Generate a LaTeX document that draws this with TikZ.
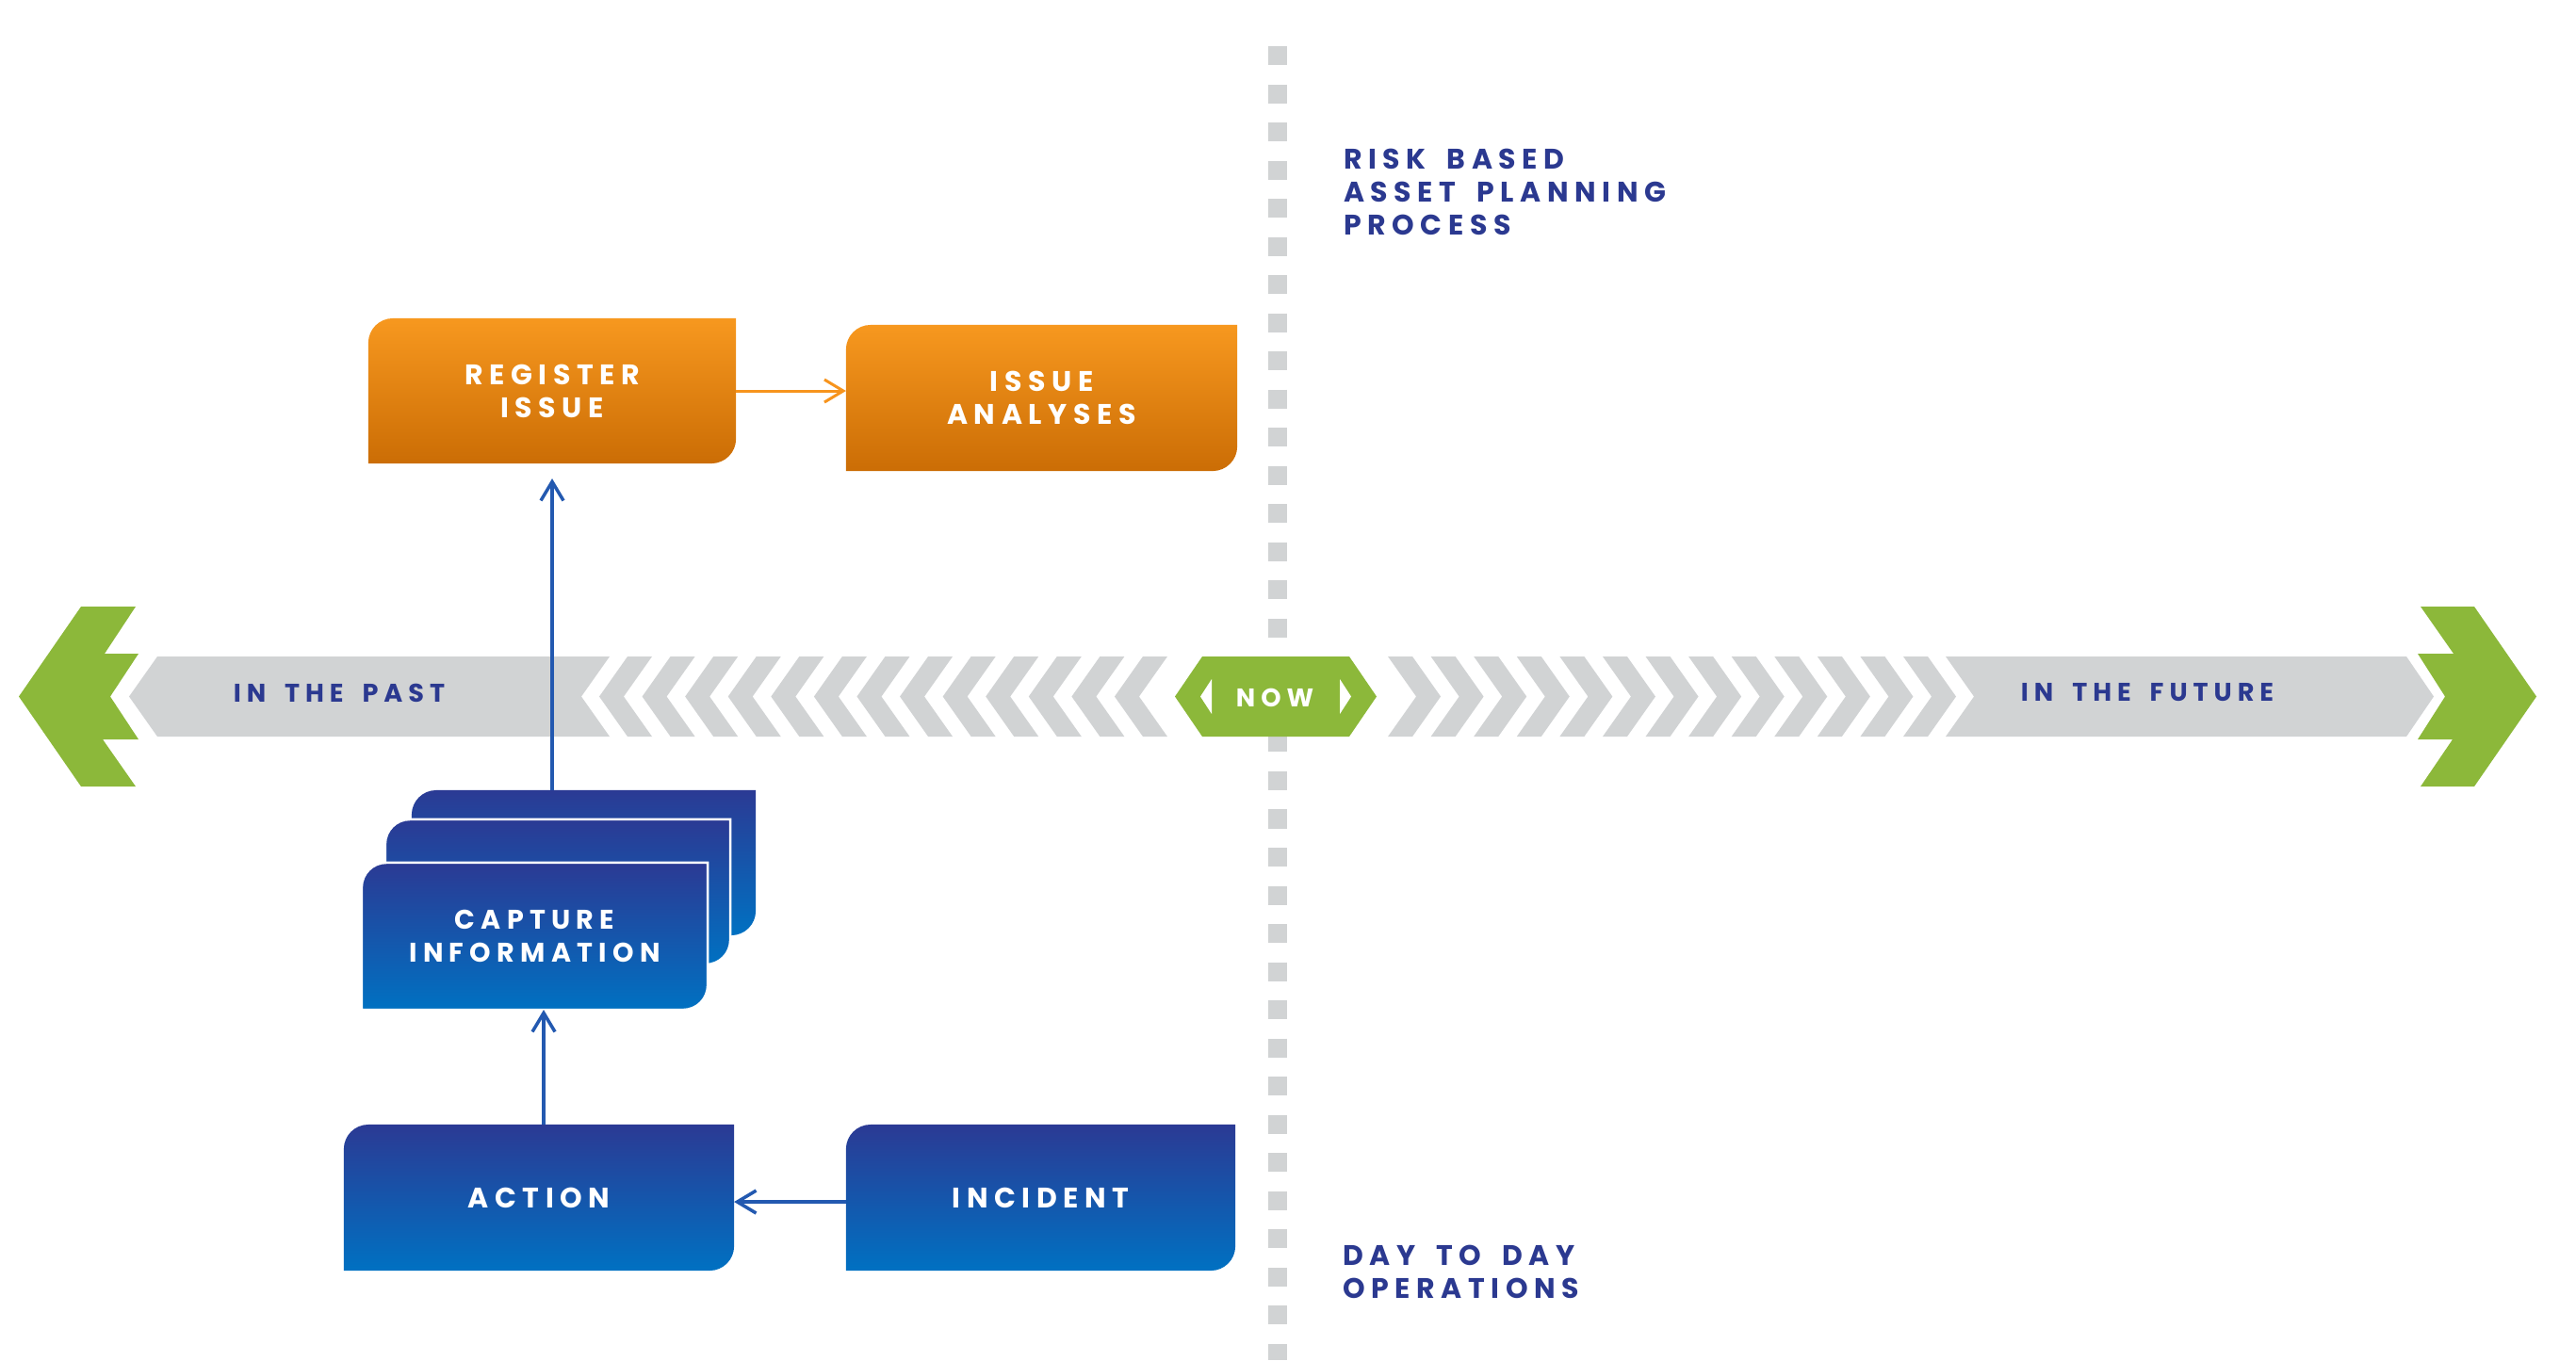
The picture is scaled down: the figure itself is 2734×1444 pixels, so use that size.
\documentclass[tikz,border=0pt]{standalone}
\usepackage{fontspec}
\usetikzlibrary{arrows.meta}
\newfontfamily\labfont{Poppins}[LetterSpace=22, WordSpace=1.7]
\definecolor{navy}{HTML}{2B3990}
\definecolor{bandgray}{HTML}{D1D3D4}
\definecolor{grn}{HTML}{8CB83A}
\definecolor{orT}{HTML}{F7981F}
\definecolor{orB}{HTML}{CB6D05}
\definecolor{blT}{HTML}{2B3A94}
\definecolor{blB}{HTML}{0071C2}
\definecolor{arrowor}{HTML}{F7941D}
\definecolor{arrowbl}{HTML}{2359B0}
\pgfdeclarelayer{bg}
\pgfsetlayers{bg,main}
\def\boxr{0.26cm}
\newcommand{\rbshape}[4]{%
 \shadedraw[top color=#2,bottom color=#3,draw=#4,line width=0.025cm] (#1.south west) -- ([yshift=-\boxr]#1.north west) .. controls ([yshift=-0.448*\boxr]#1.north west) and ([xshift=0.448*\boxr]#1.north west) .. ([xshift=\boxr]#1.north west) -- (#1.north east) -- ([yshift=\boxr]#1.south east) .. controls ([yshift=0.448*\boxr]#1.south east) and ([xshift=-0.448*\boxr]#1.south east) .. ([xshift=-\boxr]#1.south east) -- cycle;}
\tikzset{
 boxnode/.style={inner sep=0pt, outer sep=0pt, align=center, text=white, font=\labfont\bfseries\fontsize{8.54}{9.96}\selectfont},
 lbl/.style={inner sep=0pt, outer sep=0pt, text=navy, font=\labfont\bfseries\fontsize{8.54}{9.96}\selectfont},
 smalllbl/.style={lbl, font=\labfont\bfseries\fontsize{7.72}{9.96}\selectfont},
 conn/.style={line width=0.035cm, -{Straight Barb[length=0.2cm,width=0.24cm]}},
 bandfill/.style={fill=bandgray},
}
\begin{document}
\begin{tikzpicture}[x=0.01cm, y=-0.01cm]
\useasboundingbox (0,0) rectangle (2734,1444);
% vertical dashed divider
\draw[bandgray, line width=0.2cm, dash pattern=on 0.2cm off 0.205cm] (1356,49) -- (1356,1444);
% green end arrows
\fill[grn] (20,739.5) -- (86,644) -- (144,644) -- (111,694) -- (147,694) -- (117,739.5) -- (147,785) -- (109,785) -- (144,835) -- (86,835) -- cycle;
\fill[grn] (2692,739.5) -- (2626,644) -- (2569,644) -- (2604,694) -- (2566,694) -- (2595,739.5) -- (2566,785) -- (2603,785) -- (2569,835) -- (2626,835) -- cycle;
% gray bands
\fill[bandfill] (167,697) -- (647,697) -- (617,739.5) -- (647,782) -- (167,782) -- (137,739.5) -- cycle;
\fill[bandfill] (2065,697) -- (2554,697) -- (2583,739.5) -- (2554,782) -- (2065,782) -- (2095,739.5) -- cycle;
\foreach \k in {0,...,12}{
 \pgfmathsetmacro\xa{666+45.58*\k}
 \fill[bandfill] (\xa,697) -- (\xa+26,697) -- (\xa-4,739.5) -- (\xa+26,782) -- (\xa,782) -- (\xa-30,739.5) -- cycle;
 \pgfmathsetmacro\xb{2046-45.58*\k}
 \fill[bandfill] (\xb,697) -- (\xb-26,697) -- (\xb+4,739.5) -- (\xb-26,782) -- (\xb,782) -- (\xb+30,739.5) -- cycle;
}
% NOW hexagon
\fill[grn] (1276,697) -- (1432,697) -- (1461,739.5) -- (1432,782) -- (1276,782) -- (1247,739.5) -- cycle;
\fill[white] (1286,721) -- (1274,739.5) -- (1286,758) -- cycle;
\fill[white] (1422,721) -- (1434,739.5) -- (1422,758) -- cycle;
\node[smalllbl, text=white] (now) at (1353,741) {NOW};
% labels
\node[smalllbl] (past) at (360,735.5) {IN THE PAST};
\node[smalllbl] (future) at (2279,735.5) {IN THE FUTURE};
\node[lbl, anchor=north west, align=left] (rbap) at (1426,158) {RISK BASED\\ASSET PLANNING\\PROCESS};
\node[lbl, anchor=north west, align=left] (dtd) at (1425,1322) {DAY TO DAY\\OPERATIONS};
% boxes
\node[boxnode, minimum width=3.90cm, minimum height=1.54cm] (reg) at (586,415) {REGISTER\\ISSUE};
\node[boxnode, minimum width=4.15cm, minimum height=1.55cm] (ana) at (1105.5,422.5) {ISSUE\\ANALYSES};
\node[boxnode, minimum width=4.14cm, minimum height=1.55cm] (act) at (572,1271.5) {ACTION};
\node[boxnode, minimum width=4.13cm, minimum height=1.55cm] (inc) at (1104.5,1271.5) {INCIDENT};
\node[boxnode, minimum width=3.65cm, minimum height=1.54cm] (cap3) at (619.5,916) {};
\node[boxnode, minimum width=3.66cm, minimum height=1.54cm] (cap2) at (592,947) {};
\node[boxnode, minimum width=3.67cm, minimum height=1.56cm, font=\labfont\bfseries\fontsize{8.13}{9.96}\selectfont] (cap) at (567.5,994) {CAPTURE\\INFORMATION};
\begin{pgfonlayer}{bg}
 \rbshape{reg}{orT}{orB}{none}
 \rbshape{ana}{orT}{orB}{none}
 \rbshape{act}{blT}{blB}{none}
 \rbshape{inc}{blT}{blB}{none}
 \rbshape{cap3}{blT}{blB}{none}
 \rbshape{cap2}{blT}{blB}{white}
 \rbshape{cap}{blT}{blB}{white}
\end{pgfonlayer}
% connectors
\draw[conn, arrowor, line width=0.03cm] (reg.east) -- (reg.east -| ana.west);
\draw[conn, arrowbl, shorten >=0.16cm] (reg.south |- cap3.north) -- (reg.south);
\draw[conn, arrowbl] ([xshift=0.05cm]act.north) -- ([xshift=0.05cm]act.north |- cap.south);
\draw[conn, arrowbl] ([yshift=-0.045cm]inc.west) -- ([yshift=-0.045cm]act.east);
\end{tikzpicture}
\end{document}
